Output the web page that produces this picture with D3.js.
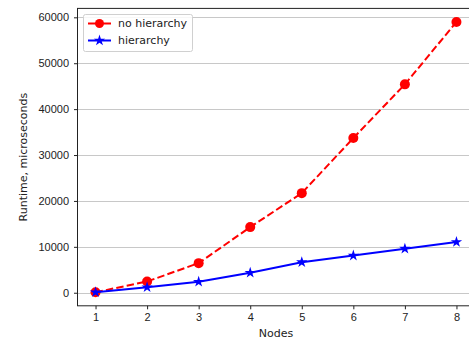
<!DOCTYPE html>
<html>
<head>
<meta charset="utf-8">
<script src="https://cdn.jsdelivr.net/npm/d3@7"></script>
<style>
    body { margin: 0; background: #fff; }
    svg { display: block; font-family: "DejaVu Sans", sans-serif; }
    .tick text { font-size: 11px; fill: #222; }
    .grid line { stroke: #c8c8c8; stroke-width: 1; }
</style>
</head>
<body>
<div id="chart"></div>
<script>
// values
const nodes = [1, 2, 3, 4, 5, 6, 7, 8];
const noHierarchy = [100, 2450, 6450, 14300, 21700, 33700, 45400, 59000];
const hierarchy = [100, 1200, 2400, 4350, 6650, 8100, 9600, 11050];
const yTicks = [0, 10000, 20000, 30000, 40000, 50000, 60000];
const seriesNames = ['no hierarchy', 'hierarchy'];

const width = 469, height = 339;
const plot = { left: 77.5, right: 474.5, top: 8.4, bottom: 305.8 };

const svg = d3.select('#chart').append('svg')
    .attr('width', width)
    .attr('height', height);

// matplotlib-style 5% margins around the data
const xPad = (d3.max(nodes) - d3.min(nodes)) * 0.05;
const x = d3.scaleLinear()
    .domain([d3.min(nodes) - xPad, d3.max(nodes) + xPad])
    .range([plot.left, plot.right]);

const allVals = noHierarchy.concat(hierarchy);
const yMin = d3.min(allVals), yMax = d3.max(allVals);
const yPad = (yMax - yMin) * 0.05;
const y = d3.scaleLinear()
    .domain([yMin - yPad, yMax + yPad])
    .range([plot.bottom, plot.top]);

// horizontal grid
svg.append('g')
    .attr('class', 'grid')
    .selectAll('line')
    .data(yTicks)
    .join('line')
    .attr('x1', plot.left)
    .attr('x2', plot.right)
    .attr('y1', function (d) { return Math.round(y(d)) + 0.5; })
    .attr('y2', function (d) { return Math.round(y(d)) + 0.5; });

// axes
const xAxis = svg.append('g')
    .attr('transform', 'translate(0,' + plot.bottom + ')')
    .call(d3.axisBottom(x).tickValues(nodes).tickSizeOuter(0).tickSize(3.5).tickPadding(4));
const yAxis = svg.append('g')
    .attr('transform', 'translate(' + plot.left + ',0)')
    .call(d3.axisLeft(y).tickValues(yTicks).tickFormat(d3.format('d')).tickSizeOuter(0).tickSize(3.5).tickPadding(5));
[xAxis, yAxis].forEach(function (a) {
    a.select('.domain').remove();
    a.selectAll('.tick line').attr('stroke', '#222');
});

// spines
svg.append('rect')
    .attr('x', plot.left)
    .attr('y', plot.top)
    .attr('width', plot.right - plot.left)
    .attr('height', plot.bottom - plot.top)
    .attr('fill', 'none')
    .attr('stroke', '#222')
    .attr('stroke-width', 1);

// axis labels
svg.append('text')
    .attr('x', (plot.left + plot.right) / 2)
    .attr('y', 337)
    .attr('text-anchor', 'middle')
    .style('font-size', '11px')
    .attr('fill', '#222')
    .text('Nodes');

svg.append('text')
    .attr('transform', 'translate(27,' + ((plot.top + plot.bottom) / 2) + ') rotate(-90)')
    .attr('text-anchor', 'middle')
    .style('font-size', '11px')
    .attr('fill', '#222')
    .text('Runtime, microseconds');

const line = d3.line()
    .x(function (d) { return x(d[0]); })
    .y(function (d) { return y(d[1]); });

const redData = nodes.map(function (n, i) { return [n, noHierarchy[i]]; });
const blueData = nodes.map(function (n, i) { return [n, hierarchy[i]]; });

const star = d3.symbol().type(d3.symbolStar).size(40);

// no hierarchy (red, dashed, circles)
svg.append('path')
    .datum(redData)
    .attr('d', line)
    .attr('fill', 'none')
    .attr('stroke', 'red')
    .attr('stroke-width', 2)
    .attr('stroke-dasharray', '7.4,3.2');
svg.selectAll('.red-pt')
    .data(redData)
    .join('circle')
    .attr('class', 'red-pt')
    .attr('cx', function (d) { return x(d[0]); })
    .attr('cy', function (d) { return y(d[1]); })
    .attr('r', 5)
    .attr('fill', 'red');

// hierarchy (blue, solid, stars)
svg.append('path')
    .datum(blueData)
    .attr('d', line)
    .attr('fill', 'none')
    .attr('stroke', 'blue')
    .attr('stroke-width', 2);
svg.selectAll('.blue-pt')
    .data(blueData)
    .join('path')
    .attr('class', 'blue-pt')
    .attr('transform', function (d) { return 'translate(' + x(d[0]) + ',' + y(d[1]) + ')'; })
    .attr('d', star)
    .attr('fill', 'blue');

// legend
const legend = svg.append('g').attr('transform', 'translate(83,14)');
legend.append('rect')
    .attr('x', 0.5).attr('y', 0.5)
    .attr('width', 109).attr('height', 37)
    .attr('rx', 2)
    .attr('fill', 'white')
    .attr('fill-opacity', 0.85)
    .attr('stroke', '#d0d0d0');

seriesNames.forEach(function (name, i) {
    const ly = 9.5 + i * 17;
    const row = legend.append('g').attr('transform', 'translate(0,' + ly + ')');
    row.append('line')
        .attr('x1', 5).attr('x2', 28)
        .attr('stroke', i === 0 ? 'red' : 'blue')
        .attr('stroke-width', 2);
    if (i === 0) {
        row.append('circle').attr('cx', 16.5).attr('r', 4.5).attr('fill', 'red');
    } else {
        row.append('path').attr('transform', 'translate(16.5,0)').attr('d', star).attr('fill', 'blue');
    }
    row.append('text')
        .attr('x', 35)
        .attr('dy', '0.35em')
        .style('font-size', '11px')
        .attr('fill', '#222')
        .text(name);
});
</script>
</body>
</html>
